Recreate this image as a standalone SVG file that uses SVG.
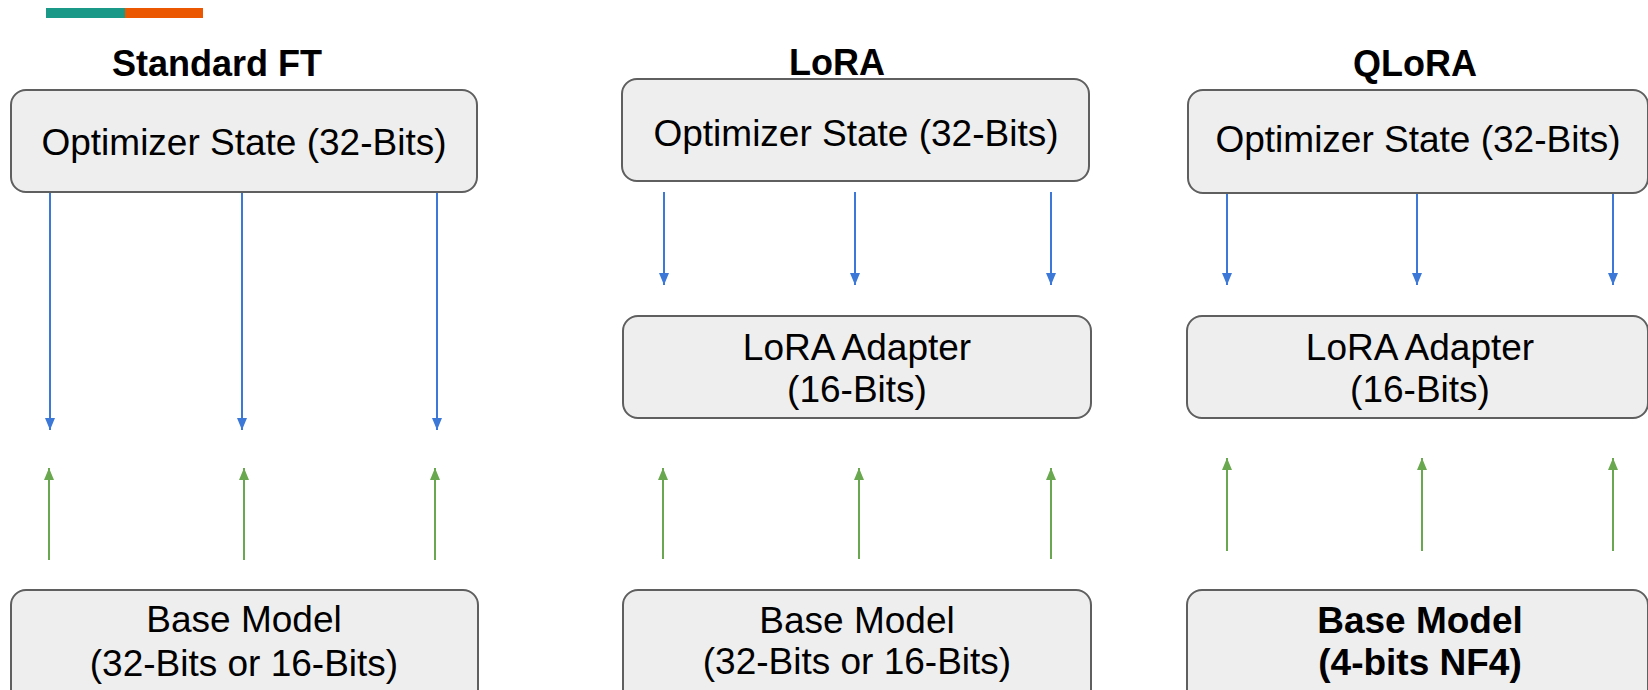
<svg xmlns="http://www.w3.org/2000/svg" width="1648" height="690" viewBox="0 0 1648 690">
<style>
.box{fill:#eeeeee;stroke:#5f5f5f;stroke-width:2}
.t{font-family:"Liberation Sans",Arial,sans-serif;font-size:37px;fill:#000;text-anchor:middle}
.b{font-weight:bold}
.title{font-family:"Liberation Sans",Arial,sans-serif;font-size:36px;font-weight:bold;fill:#000;text-anchor:middle}
.blue{stroke:#3c78d8;stroke-width:2;fill:none;marker-end:url(#ab)}
.green{stroke:#6aa84f;stroke-width:2;fill:none;marker-end:url(#ag)}
</style>
<defs>
<marker id="ab" markerUnits="userSpaceOnUse" markerWidth="12" markerHeight="10" refX="12" refY="5" orient="auto" viewBox="0 0 12 10"><path d="M0,0 L12,5 L0,10 Z" fill="#3c78d8"/></marker>
<marker id="ag" markerUnits="userSpaceOnUse" markerWidth="12" markerHeight="10" refX="12" refY="5" orient="auto" viewBox="0 0 12 10"><path d="M0,0 L12,5 L0,10 Z" fill="#6aa84f"/></marker>
</defs>
<rect x="0" y="0" width="1648" height="690" fill="#ffffff"/>
<g id="colorbar">
<rect x="46" y="8" width="79" height="10" fill="#1a9988"/>
<rect x="125" y="8" width="78" height="10" fill="#eb5600"/>
</g>
<g id="titles">
<text class="title" x="217" y="76">Standard FT</text>
<text class="title" x="837" y="75">LoRA</text>
<text class="title" x="1415" y="76">QLoRA</text>
</g>
<g id="std-opt"><rect class="box" x="11" y="90" width="466" height="102" rx="15"/><text class="t" x="244" y="155">Optimizer State (32-Bits)</text></g>
<g id="lora-opt"><rect class="box" x="622" y="79" width="467" height="102" rx="15"/><text class="t" x="856" y="146">Optimizer State (32-Bits)</text></g>
<g id="qlora-opt"><rect class="box" x="1188" y="90" width="460" height="103" rx="15"/><text class="t" x="1418" y="152">Optimizer State (32-Bits)</text></g>
<g id="lora-adapter"><rect class="box" x="623" y="316" width="468" height="102" rx="15"/><text class="t" x="857" y="360">LoRA Adapter</text><text class="t" x="857" y="402">(16-Bits)</text></g>
<g id="qlora-adapter"><rect class="box" x="1187" y="316" width="461" height="102" rx="15"/><text class="t" x="1420" y="360">LoRA Adapter</text><text class="t" x="1420" y="402">(16-Bits)</text></g>
<g id="std-base"><rect class="box" x="11" y="590" width="467" height="115" rx="15"/><text class="t" x="244" y="632">Base Model</text><text class="t" x="244" y="676">(32-Bits or 16-Bits)</text></g>
<g id="lora-base"><rect class="box" x="623" y="590" width="468" height="115" rx="15"/><text class="t" x="857" y="633">Base Model</text><text class="t" x="857" y="674">(32-Bits or 16-Bits)</text></g>
<g id="qlora-base"><rect class="box" x="1187" y="590" width="461" height="115" rx="15"/><text class="t b" x="1420" y="633">Base Model</text><text class="t b" x="1420" y="675">(4-bits NF4)</text></g>
<g id="connectors">
<line class="blue" x1="50" y1="193" x2="50" y2="430"/>
<line class="blue" x1="242" y1="193" x2="242" y2="430"/>
<line class="blue" x1="437" y1="193" x2="437" y2="430"/>
<line class="green" x1="49" y1="560" x2="49" y2="468"/>
<line class="green" x1="244" y1="560" x2="244" y2="468"/>
<line class="green" x1="435" y1="560" x2="435" y2="468"/>
<line class="blue" x1="664" y1="192" x2="664" y2="285"/>
<line class="blue" x1="855" y1="192" x2="855" y2="285"/>
<line class="blue" x1="1051" y1="192" x2="1051" y2="285"/>
<line class="green" x1="663" y1="559" x2="663" y2="468"/>
<line class="green" x1="859" y1="559" x2="859" y2="468"/>
<line class="green" x1="1051" y1="559" x2="1051" y2="468"/>
<line class="blue" x1="1227" y1="194" x2="1227" y2="285"/>
<line class="blue" x1="1417" y1="194" x2="1417" y2="285"/>
<line class="blue" x1="1613" y1="194" x2="1613" y2="285"/>
<line class="green" x1="1227" y1="551" x2="1227" y2="458"/>
<line class="green" x1="1422" y1="551" x2="1422" y2="458"/>
<line class="green" x1="1613" y1="551" x2="1613" y2="458"/>
</g>
</svg>
